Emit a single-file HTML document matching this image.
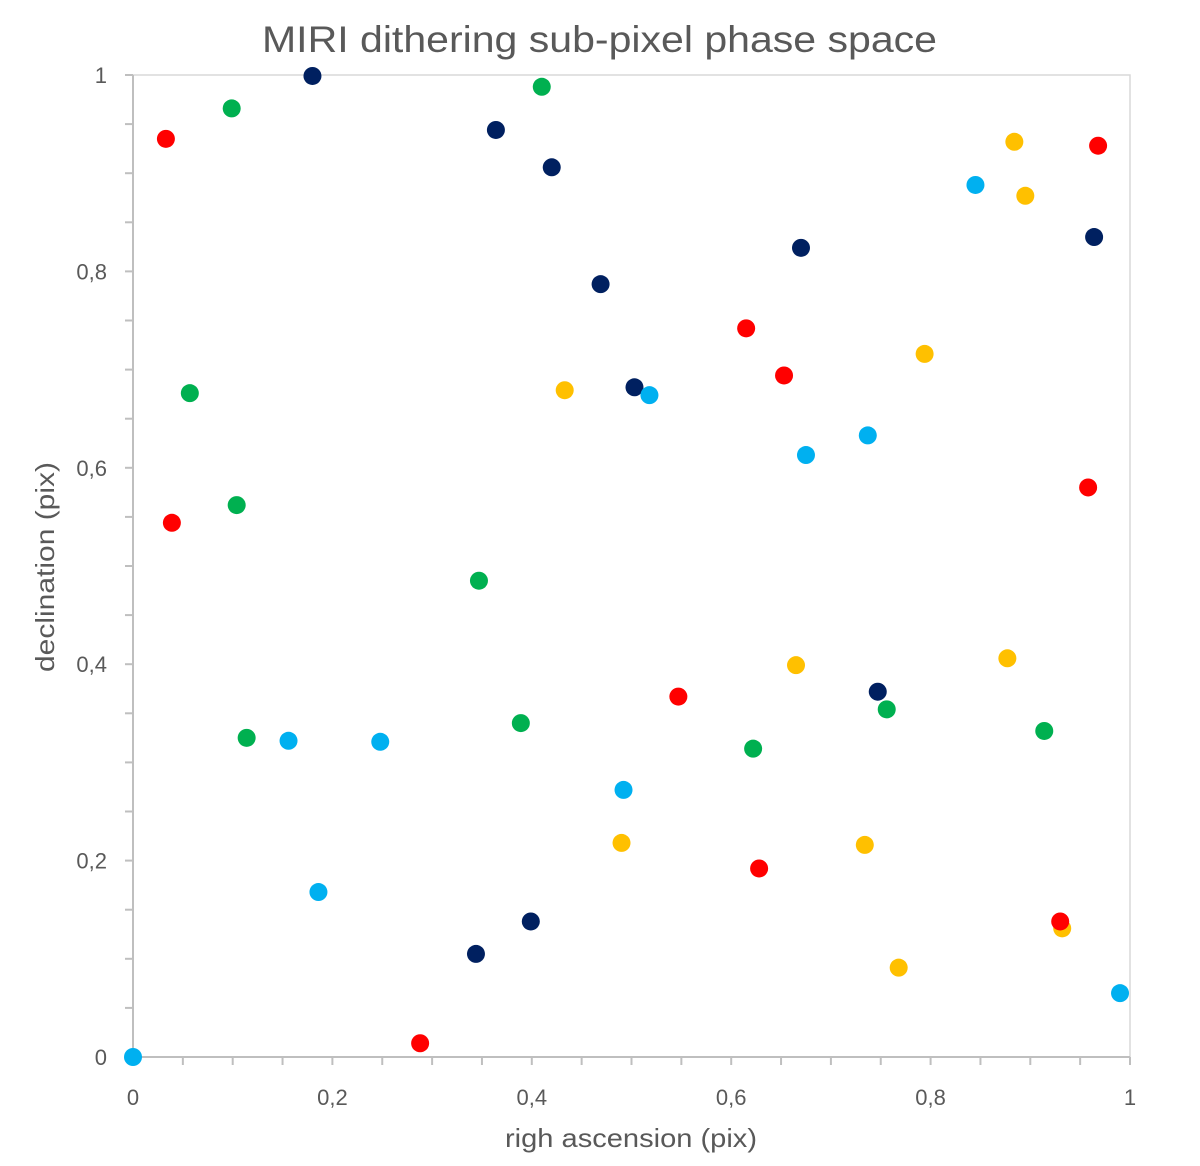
<!DOCTYPE html>
<html><head><meta charset="utf-8"><style>
html,body{margin:0;padding:0;background:#fff}
svg text{font-family:"Liberation Sans",sans-serif;fill:#595959}
</style></head><body>
<svg id="chart" width="1200" height="1161" xmlns="http://www.w3.org/2000/svg">
<text x="262" y="52" font-size="37" textLength="675" lengthAdjust="spacingAndGlyphs">MIRI dithering sub-pixel phase space</text>
<rect x="133" y="75" width="997" height="982" fill="none" stroke="#d9d9d9" stroke-width="1.5"/>
<g id="axes"></g>
<g id="points"></g>
<text x="505" y="1147" font-size="26" textLength="252" lengthAdjust="spacingAndGlyphs">righ ascension (pix)</text>
<text transform="translate(54,672) rotate(-90)" font-size="26" textLength="210" lengthAdjust="spacingAndGlyphs">declination (pix)</text>
</svg>
<script>
const xTickLabels=["0","0,2","0,4","0,6","0,8","1"];
const yTickLabels=["0","0,2","0,4","0,6","0,8","1"];
const seriesNames=["navy","green","lightblue","yellow","red"];
const seriesColors=["#002060","#00B050","#00B0F0","#FFC000","#FF0000"];
const navyX=[0.180,0.364,0.420,0.469,0.503,0.670,0.964,0.747,0.399,0.344];
const navyY=[0.999,0.944,0.906,0.787,0.682,0.824,0.835,0.372,0.138,0.105];
const greenX=[0.099,0.057,0.104,0.114,0.347,0.389,0.410,0.622,0.756,0.914];
const greenY=[0.966,0.676,0.562,0.325,0.485,0.340,0.988,0.314,0.354,0.332];
const blueX=[0,0.156,0.248,0.186,0.492,0.518,0.675,0.737,0.845,0.990];
const blueY=[0,0.322,0.321,0.168,0.272,0.674,0.613,0.633,0.888,0.065];
const yellowX=[0.433,0.490,0.665,0.734,0.794,0.884,0.895,0.877,0.768,0.932];
const yellowY=[0.679,0.218,0.399,0.216,0.716,0.932,0.877,0.406,0.091,0.131];
const redX=[0.033,0.039,0.288,0.547,0.615,0.653,0.628,0.968,0.958,0.930];
const redY=[0.935,0.544,0.014,0.367,0.742,0.694,0.192,0.928,0.580,0.138];
const allX=[navyX,greenX,blueX,yellowX,redX];
const allY=[navyY,greenY,blueY,yellowY,redY];
const NS="http://www.w3.org/2000/svg";
const x0=133,x1=1130,y0=1057,y1=75;
const sx=v=>x0+v*(x1-x0);
const sy=v=>y0-v*(y0-y1);
const axes=document.getElementById('axes');
function mk(t,a,p){const e=document.createElementNS(NS,t);for(const k in a)e.setAttribute(k,a[k]);p.appendChild(e);return e;}
const xl=mk('line',{x1:x0,y1:y0,x2:x1,y2:y0,stroke:'#bfbfbf','stroke-width':2},axes);


const yl=mk('line',{x1:x0,y1:y0,x2:x0,y2:y1,stroke:'#bfbfbf','stroke-width':2},axes);


for(let i=0;i<=20;i++){
  const v=i/20;
  const tx=mk('line',{x1:sx(v),y1:y0,x2:sx(v),y2:y0+8,stroke:'#bfbfbf','stroke-width':2},axes);
  
  
  const ty=mk('line',{x1:x0-8,y1:sy(v),x2:x0,y2:sy(v),stroke:'#bfbfbf','stroke-width':2},axes);
  
  
}
xTickLabels.forEach((l,i)=>{
  const v=i/(xTickLabels.length-1);
  const t=mk('text',{x:sx(v),y:y0+48,'text-anchor':'middle','font-size':22},axes);
  t.textContent=l;
  
  
});
yTickLabels.forEach((l,i)=>{
  const v=i/(yTickLabels.length-1);
  const t=mk('text',{x:107,y:sy(v)+8,'text-anchor':'end','font-size':22},axes);
  t.textContent=l;
  
  
});
const pts=document.getElementById('points');
allX.forEach((xs,s)=>{
  xs.forEach((xv,i)=>{
    const c=mk('circle',{cx:sx(xv),cy:sy(allY[s][i]),r:9,fill:seriesColors[s]},pts);
    
    
  });
});
</script>
</body></html>
